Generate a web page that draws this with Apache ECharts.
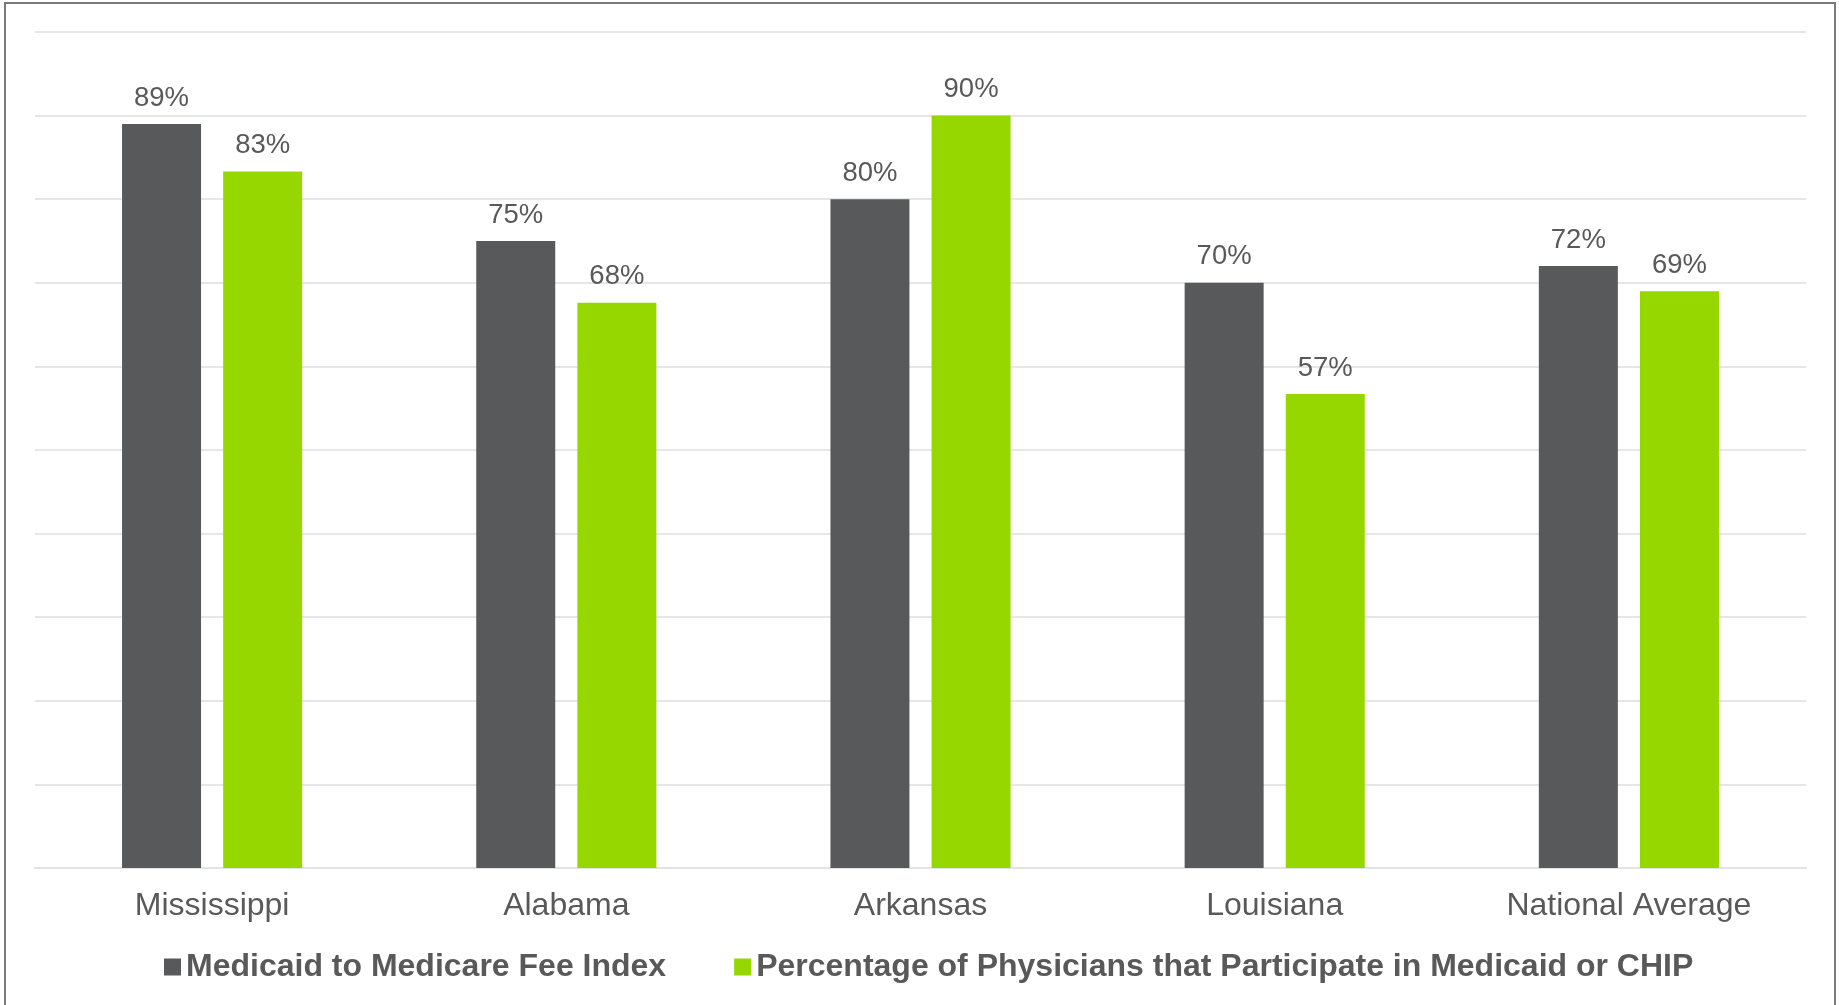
<!DOCTYPE html>
<html>
<head>
<meta charset="utf-8">
<script src="https://cdn.jsdelivr.net/npm/echarts@6/dist/echarts.min.js"></script>
<style>
html,body{margin:0;padding:0;background:#fff;}
#chart{width:1839px;height:1005px;}
</style>
</head>
<body>
<div id="chart"></div>
<script>
var categories = ['Mississippi', 'Alabama', 'Arkansas', 'Louisiana', 'National Average'];
var feeIndex = [89, 75, 80, 70, 72];
var physicians = [83.3, 67.6, 90, 56.7, 69];
var seriesNames = ['Medicaid to Medicare Fee Index', 'Percentage of Physicians that Participate in Medicaid or CHIP'];

var FONT = '"Liberation Sans", Arial, sans-serif';
var TXT = '#595959';
var chart = echarts.init(document.getElementById('chart'), null, {renderer: 'canvas'});
var labelCfg = {
  show: true, position: 'top', distance: 12,
  formatter: function (p) { return Math.round(p.value) + '%'; },
  color: TXT, fontSize: 27.5, fontFamily: FONT
};
chart.setOption({
  animation: false,
  backgroundColor: '#ffffff',
  graphic: [{
    type: 'rect', silent: true,
    shape: {x: 5, y: 3, width: 1830, height: 1010},
    style: {fill: 'none', stroke: '#7a7a7a', lineWidth: 2}
  }],
  grid: {left: 35, right: 33, top: 32, bottom: 137, containLabel: false},
  legend: {
    left: 159, top: 946,
    itemWidth: 17, itemHeight: 17, itemGap: 68,
    icon: 'rect',
    textStyle: {color: TXT, fontSize: 32, fontWeight: 'bold', fontFamily: FONT},
    data: seriesNames
  },
  xAxis: {
    type: 'category', data: categories,
    axisLine: {show: true, lineStyle: {color: '#e3e3e3', width: 2}},
    axisTick: {show: false},
    axisLabel: {color: TXT, fontSize: 32, fontFamily: FONT, margin: 22}
  },
  yAxis: {
    type: 'value', min: 0, max: 100, interval: 10,
    axisLabel: {show: false}, axisLine: {show: false}, axisTick: {show: false},
    splitLine: {show: true, lineStyle: {color: '#e6e6e6', width: 2}}
  },
  series: [
    {name: seriesNames[0], type: 'bar', data: feeIndex, barWidth: 79, barGap: '28%',
     itemStyle: {color: '#58595B'}, label: labelCfg},
    {name: seriesNames[1], type: 'bar', data: physicians, barWidth: 79, barGap: '28%',
     itemStyle: {color: '#97D700'}, label: labelCfg}
  ]
});
</script>
</body>
</html>
